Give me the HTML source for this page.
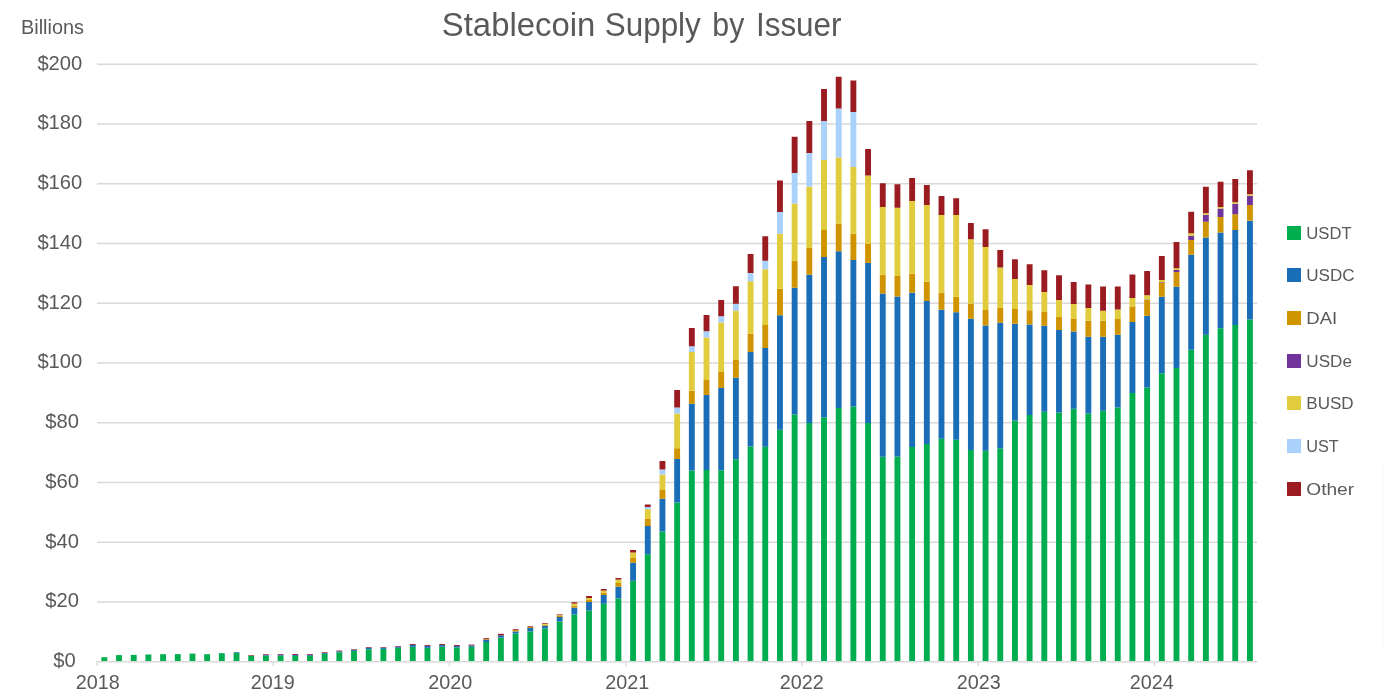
<!DOCTYPE html>
<html lang="en">
<head>
<meta charset="utf-8">
<title>Stablecoin Supply by Issuer</title>
<style>
html,body{margin:0;padding:0;background:#fff;}
body{width:1384px;height:700px;overflow:hidden;}
svg{display:block;}
text{font-family:"Liberation Sans",sans-serif;fill:#595959;}
.ax{font-size:19.8px;}
.ay{font-size:20.2px;}
.lg{font-size:16.8px;}
.ttl{font-size:34px;}
.bil{font-size:19.8px;}
</style>
</head>
<body>
<svg width="1384" height="700" viewBox="0 0 1384 700">
<rect x="0" y="0" width="1384" height="700" fill="#ffffff"/>
<rect x="1382" y="464" width="2" height="184" fill="#FAFAFA"/>
<text y="36" class="ttl"><tspan x="441.8" textLength="153.5" lengthAdjust="spacingAndGlyphs">Stablecoin</tspan> <tspan x="604.8" textLength="96" lengthAdjust="spacingAndGlyphs">Supply</tspan> <tspan x="712.3" textLength="32" lengthAdjust="spacingAndGlyphs">by</tspan> <tspan x="756" textLength="85.5" lengthAdjust="spacingAndGlyphs">Issuer</tspan></text>
<text x="21" y="33.9" class="bil" textLength="63" lengthAdjust="spacingAndGlyphs">Billions</text>
<g shape-rendering="auto">
<rect x="97" y="601.25" width="1160.2" height="1.5" fill="#D9D9D9"/>
<rect x="97" y="541.50" width="1160.2" height="1.5" fill="#D9D9D9"/>
<rect x="97" y="481.75" width="1160.2" height="1.5" fill="#D9D9D9"/>
<rect x="97" y="422.00" width="1160.2" height="1.5" fill="#D9D9D9"/>
<rect x="97" y="362.25" width="1160.2" height="1.5" fill="#D9D9D9"/>
<rect x="97" y="302.50" width="1160.2" height="1.5" fill="#D9D9D9"/>
<rect x="97" y="242.75" width="1160.2" height="1.5" fill="#D9D9D9"/>
<rect x="97" y="183.00" width="1160.2" height="1.5" fill="#D9D9D9"/>
<rect x="97" y="123.25" width="1160.2" height="1.5" fill="#D9D9D9"/>
<rect x="97" y="63.50" width="1160.2" height="1.5" fill="#D9D9D9"/>
</g>
<g>
<rect x="101.40" y="657.20" width="5.88" height="3.80" fill="#00AE4F"/>
<rect x="116.09" y="655.10" width="5.88" height="5.90" fill="#00AE4F"/>
<rect x="130.78" y="654.90" width="5.88" height="6.10" fill="#00AE4F"/>
<rect x="145.46" y="654.50" width="5.88" height="6.50" fill="#00AE4F"/>
<rect x="160.15" y="654.20" width="5.88" height="6.80" fill="#00AE4F"/>
<rect x="174.84" y="654.10" width="5.88" height="6.90" fill="#00AE4F"/>
<rect x="189.53" y="653.60" width="5.88" height="7.40" fill="#00AE4F"/>
<rect x="204.21" y="654.20" width="5.88" height="6.80" fill="#00AE4F"/>
<rect x="218.90" y="653.20" width="5.88" height="7.80" fill="#00AE4F"/>
<rect x="233.59" y="652.90" width="5.88" height="8.10" fill="#00AE4F"/>
<rect x="233.59" y="652.20" width="5.88" height="0.70" fill="#1A6DB7"/>
<rect x="248.27" y="655.70" width="5.88" height="5.30" fill="#00AE4F"/>
<rect x="248.27" y="655.10" width="5.88" height="0.60" fill="#9B1C20"/>
<rect x="262.96" y="655.70" width="5.88" height="5.30" fill="#00AE4F"/>
<rect x="262.96" y="654.90" width="5.88" height="0.80" fill="#1A6DB7"/>
<rect x="262.96" y="654.20" width="5.88" height="0.70" fill="#9B1C20"/>
<rect x="277.65" y="655.70" width="5.88" height="5.30" fill="#00AE4F"/>
<rect x="277.65" y="654.90" width="5.88" height="0.80" fill="#1A6DB7"/>
<rect x="277.65" y="654.10" width="5.88" height="0.80" fill="#9B1C20"/>
<rect x="292.33" y="655.90" width="5.88" height="5.10" fill="#00AE4F"/>
<rect x="292.33" y="655.00" width="5.88" height="0.90" fill="#1A6DB7"/>
<rect x="292.33" y="654.10" width="5.88" height="0.90" fill="#9B1C20"/>
<rect x="307.02" y="655.80" width="5.88" height="5.20" fill="#00AE4F"/>
<rect x="307.02" y="654.90" width="5.88" height="0.90" fill="#1A6DB7"/>
<rect x="307.02" y="654.10" width="5.88" height="0.80" fill="#9B1C20"/>
<rect x="321.71" y="653.80" width="5.88" height="7.20" fill="#00AE4F"/>
<rect x="321.71" y="652.90" width="5.88" height="0.90" fill="#1A6DB7"/>
<rect x="321.71" y="652.20" width="5.88" height="0.70" fill="#9B1C20"/>
<rect x="336.40" y="652.30" width="5.88" height="8.70" fill="#00AE4F"/>
<rect x="336.40" y="651.30" width="5.88" height="1.00" fill="#1A6DB7"/>
<rect x="336.40" y="650.60" width="5.88" height="0.70" fill="#9B1C20"/>
<rect x="351.08" y="650.90" width="5.88" height="10.10" fill="#00AE4F"/>
<rect x="351.08" y="649.80" width="5.88" height="1.10" fill="#1A6DB7"/>
<rect x="351.08" y="649.20" width="5.88" height="0.60" fill="#9B1C20"/>
<rect x="365.77" y="649.20" width="5.88" height="11.80" fill="#00AE4F"/>
<rect x="365.77" y="647.80" width="5.88" height="1.40" fill="#1A6DB7"/>
<rect x="365.77" y="647.10" width="5.88" height="0.70" fill="#9B1C20"/>
<rect x="380.46" y="648.90" width="5.88" height="12.10" fill="#00AE4F"/>
<rect x="380.46" y="647.70" width="5.88" height="1.20" fill="#1A6DB7"/>
<rect x="380.46" y="647.10" width="5.88" height="0.60" fill="#9B1C20"/>
<rect x="395.14" y="647.80" width="5.88" height="13.20" fill="#00AE4F"/>
<rect x="395.14" y="646.60" width="5.88" height="1.20" fill="#1A6DB7"/>
<rect x="395.14" y="646.00" width="5.88" height="0.60" fill="#9B1C20"/>
<rect x="409.83" y="646.80" width="5.88" height="14.20" fill="#00AE4F"/>
<rect x="409.83" y="645.00" width="5.88" height="1.80" fill="#1A6DB7"/>
<rect x="409.83" y="644.10" width="5.88" height="0.90" fill="#9B1C20"/>
<rect x="424.52" y="647.80" width="5.88" height="13.20" fill="#00AE4F"/>
<rect x="424.52" y="646.00" width="5.88" height="1.80" fill="#1A6DB7"/>
<rect x="424.52" y="645.10" width="5.88" height="0.90" fill="#9B1C20"/>
<rect x="439.20" y="646.70" width="5.88" height="14.30" fill="#00AE4F"/>
<rect x="439.20" y="645.00" width="5.88" height="1.70" fill="#1A6DB7"/>
<rect x="439.20" y="644.10" width="5.88" height="0.90" fill="#9B1C20"/>
<rect x="453.89" y="647.40" width="5.88" height="13.60" fill="#00AE4F"/>
<rect x="453.89" y="645.90" width="5.88" height="1.50" fill="#1A6DB7"/>
<rect x="453.89" y="645.00" width="5.88" height="0.90" fill="#9B1C20"/>
<rect x="468.58" y="646.80" width="5.88" height="14.20" fill="#00AE4F"/>
<rect x="468.58" y="645.40" width="5.88" height="1.40" fill="#1A6DB7"/>
<rect x="468.58" y="644.60" width="5.88" height="0.80" fill="#9B1C20"/>
<rect x="483.27" y="642.00" width="5.88" height="19.00" fill="#00AE4F"/>
<rect x="483.27" y="639.80" width="5.88" height="2.20" fill="#1A6DB7"/>
<rect x="483.27" y="639.20" width="5.88" height="0.60" fill="#D09400"/>
<rect x="483.27" y="638.20" width="5.88" height="1.00" fill="#9B1C20"/>
<rect x="497.95" y="637.60" width="5.88" height="23.40" fill="#00AE4F"/>
<rect x="497.95" y="635.40" width="5.88" height="2.20" fill="#1A6DB7"/>
<rect x="497.95" y="633.80" width="5.88" height="1.60" fill="#9B1C20"/>
<rect x="512.64" y="633.40" width="5.88" height="27.60" fill="#00AE4F"/>
<rect x="512.64" y="631.40" width="5.88" height="2.00" fill="#1A6DB7"/>
<rect x="512.64" y="630.10" width="5.88" height="1.30" fill="#D09400"/>
<rect x="512.64" y="629.20" width="5.88" height="0.90" fill="#9B1C20"/>
<rect x="527.33" y="631.40" width="5.88" height="29.60" fill="#00AE4F"/>
<rect x="527.33" y="628.00" width="5.88" height="3.40" fill="#1A6DB7"/>
<rect x="527.33" y="626.90" width="5.88" height="1.10" fill="#D09400"/>
<rect x="527.33" y="626.20" width="5.88" height="0.70" fill="#9B1C20"/>
<rect x="542.01" y="628.40" width="5.88" height="32.60" fill="#00AE4F"/>
<rect x="542.01" y="625.80" width="5.88" height="2.60" fill="#1A6DB7"/>
<rect x="542.01" y="624.80" width="5.88" height="1.00" fill="#D09400"/>
<rect x="542.01" y="623.70" width="5.88" height="1.10" fill="#E0CC3C"/>
<rect x="542.01" y="623.00" width="5.88" height="0.70" fill="#9B1C20"/>
<rect x="556.70" y="621.40" width="5.88" height="39.60" fill="#00AE4F"/>
<rect x="556.70" y="617.00" width="5.88" height="4.40" fill="#1A6DB7"/>
<rect x="556.70" y="615.80" width="5.88" height="1.20" fill="#D09400"/>
<rect x="556.70" y="615.20" width="5.88" height="0.60" fill="#E0CC3C"/>
<rect x="556.70" y="614.40" width="5.88" height="0.80" fill="#9B1C20"/>
<rect x="571.39" y="614.40" width="5.88" height="46.60" fill="#00AE4F"/>
<rect x="571.39" y="607.60" width="5.88" height="6.80" fill="#1A6DB7"/>
<rect x="571.39" y="605.60" width="5.88" height="2.00" fill="#D09400"/>
<rect x="571.39" y="603.60" width="5.88" height="2.00" fill="#E0CC3C"/>
<rect x="571.39" y="602.20" width="5.88" height="1.40" fill="#9B1C20"/>
<rect x="586.07" y="610.60" width="5.88" height="50.40" fill="#00AE4F"/>
<rect x="586.07" y="602.00" width="5.88" height="8.60" fill="#1A6DB7"/>
<rect x="586.07" y="600.00" width="5.88" height="2.00" fill="#D09400"/>
<rect x="586.07" y="598.00" width="5.88" height="2.00" fill="#E0CC3C"/>
<rect x="586.07" y="596.00" width="5.88" height="2.00" fill="#9B1C20"/>
<rect x="600.76" y="603.80" width="5.88" height="57.20" fill="#00AE4F"/>
<rect x="600.76" y="595.00" width="5.88" height="8.80" fill="#1A6DB7"/>
<rect x="600.76" y="592.80" width="5.88" height="2.20" fill="#D09400"/>
<rect x="600.76" y="590.60" width="5.88" height="2.20" fill="#E0CC3C"/>
<rect x="600.76" y="589.00" width="5.88" height="1.60" fill="#9B1C20"/>
<rect x="615.45" y="598.40" width="5.88" height="62.60" fill="#00AE4F"/>
<rect x="615.45" y="586.60" width="5.88" height="11.80" fill="#1A6DB7"/>
<rect x="615.45" y="583.00" width="5.88" height="3.60" fill="#D09400"/>
<rect x="615.45" y="579.60" width="5.88" height="3.40" fill="#E0CC3C"/>
<rect x="615.45" y="578.00" width="5.88" height="1.60" fill="#9B1C20"/>
<rect x="630.14" y="580.75" width="5.88" height="80.25" fill="#00AE4F"/>
<rect x="630.14" y="562.75" width="5.88" height="18.00" fill="#1A6DB7"/>
<rect x="630.14" y="558.00" width="5.88" height="4.75" fill="#D09400"/>
<rect x="630.14" y="552.50" width="5.88" height="5.50" fill="#E0CC3C"/>
<rect x="630.14" y="550.00" width="5.88" height="2.50" fill="#9B1C20"/>
<rect x="644.82" y="554.25" width="5.88" height="106.75" fill="#00AE4F"/>
<rect x="644.82" y="526.00" width="5.88" height="28.25" fill="#1A6DB7"/>
<rect x="644.82" y="519.00" width="5.88" height="7.00" fill="#D09400"/>
<rect x="644.82" y="509.25" width="5.88" height="9.75" fill="#E0CC3C"/>
<rect x="644.82" y="507.00" width="5.88" height="2.25" fill="#A9D1FB"/>
<rect x="644.82" y="504.50" width="5.88" height="2.50" fill="#9B1C20"/>
<rect x="659.51" y="531.50" width="5.88" height="129.50" fill="#00AE4F"/>
<rect x="659.51" y="498.75" width="5.88" height="32.75" fill="#1A6DB7"/>
<rect x="659.51" y="490.00" width="5.88" height="8.75" fill="#D09400"/>
<rect x="659.51" y="474.50" width="5.88" height="15.50" fill="#E0CC3C"/>
<rect x="659.51" y="469.50" width="5.88" height="5.00" fill="#A9D1FB"/>
<rect x="659.51" y="461.00" width="5.88" height="8.50" fill="#9B1C20"/>
<rect x="674.20" y="502.50" width="5.88" height="158.50" fill="#00AE4F"/>
<rect x="674.20" y="459.00" width="5.88" height="43.50" fill="#1A6DB7"/>
<rect x="674.20" y="448.25" width="5.88" height="10.75" fill="#D09400"/>
<rect x="674.20" y="413.50" width="5.88" height="34.75" fill="#E0CC3C"/>
<rect x="674.20" y="407.50" width="5.88" height="6.00" fill="#A9D1FB"/>
<rect x="674.20" y="390.00" width="5.88" height="17.50" fill="#9B1C20"/>
<rect x="688.88" y="470.50" width="5.88" height="190.50" fill="#00AE4F"/>
<rect x="688.88" y="403.75" width="5.88" height="66.75" fill="#1A6DB7"/>
<rect x="688.88" y="390.75" width="5.88" height="13.00" fill="#D09400"/>
<rect x="688.88" y="352.00" width="5.88" height="38.75" fill="#E0CC3C"/>
<rect x="688.88" y="346.25" width="5.88" height="5.75" fill="#A9D1FB"/>
<rect x="688.88" y="328.00" width="5.88" height="18.25" fill="#9B1C20"/>
<rect x="703.57" y="470.00" width="5.88" height="191.00" fill="#00AE4F"/>
<rect x="703.57" y="395.00" width="5.88" height="75.00" fill="#1A6DB7"/>
<rect x="703.57" y="380.00" width="5.88" height="15.00" fill="#D09400"/>
<rect x="703.57" y="337.50" width="5.88" height="42.50" fill="#E0CC3C"/>
<rect x="703.57" y="331.25" width="5.88" height="6.25" fill="#A9D1FB"/>
<rect x="703.57" y="315.00" width="5.88" height="16.25" fill="#9B1C20"/>
<rect x="718.26" y="470.25" width="5.88" height="190.75" fill="#00AE4F"/>
<rect x="718.26" y="388.00" width="5.88" height="82.25" fill="#1A6DB7"/>
<rect x="718.26" y="372.00" width="5.88" height="16.00" fill="#D09400"/>
<rect x="718.26" y="322.50" width="5.88" height="49.50" fill="#E0CC3C"/>
<rect x="718.26" y="316.25" width="5.88" height="6.25" fill="#A9D1FB"/>
<rect x="718.26" y="300.00" width="5.88" height="16.25" fill="#9B1C20"/>
<rect x="732.94" y="459.25" width="5.88" height="201.75" fill="#00AE4F"/>
<rect x="732.94" y="377.75" width="5.88" height="81.50" fill="#1A6DB7"/>
<rect x="732.94" y="360.00" width="5.88" height="17.75" fill="#D09400"/>
<rect x="732.94" y="310.75" width="5.88" height="49.25" fill="#E0CC3C"/>
<rect x="732.94" y="303.75" width="5.88" height="7.00" fill="#A9D1FB"/>
<rect x="732.94" y="286.25" width="5.88" height="17.50" fill="#9B1C20"/>
<rect x="747.63" y="446.50" width="5.88" height="214.50" fill="#00AE4F"/>
<rect x="747.63" y="352.00" width="5.88" height="94.50" fill="#1A6DB7"/>
<rect x="747.63" y="333.75" width="5.88" height="18.25" fill="#D09400"/>
<rect x="747.63" y="281.25" width="5.88" height="52.50" fill="#E0CC3C"/>
<rect x="747.63" y="273.00" width="5.88" height="8.25" fill="#A9D1FB"/>
<rect x="747.63" y="254.00" width="5.88" height="19.00" fill="#9B1C20"/>
<rect x="762.32" y="446.75" width="5.88" height="214.25" fill="#00AE4F"/>
<rect x="762.32" y="348.00" width="5.88" height="98.75" fill="#1A6DB7"/>
<rect x="762.32" y="325.00" width="5.88" height="23.00" fill="#D09400"/>
<rect x="762.32" y="269.25" width="5.88" height="55.75" fill="#E0CC3C"/>
<rect x="762.32" y="260.75" width="5.88" height="8.50" fill="#A9D1FB"/>
<rect x="762.32" y="236.25" width="5.88" height="24.50" fill="#9B1C20"/>
<rect x="777.01" y="429.75" width="5.88" height="231.25" fill="#00AE4F"/>
<rect x="777.01" y="315.25" width="5.88" height="114.50" fill="#1A6DB7"/>
<rect x="777.01" y="288.75" width="5.88" height="26.50" fill="#D09400"/>
<rect x="777.01" y="233.75" width="5.88" height="55.00" fill="#E0CC3C"/>
<rect x="777.01" y="212.00" width="5.88" height="21.75" fill="#A9D1FB"/>
<rect x="777.01" y="180.50" width="5.88" height="31.50" fill="#9B1C20"/>
<rect x="791.69" y="414.50" width="5.88" height="246.50" fill="#00AE4F"/>
<rect x="791.69" y="287.75" width="5.88" height="126.75" fill="#1A6DB7"/>
<rect x="791.69" y="260.75" width="5.88" height="27.00" fill="#D09400"/>
<rect x="791.69" y="203.50" width="5.88" height="57.25" fill="#E0CC3C"/>
<rect x="791.69" y="173.00" width="5.88" height="30.50" fill="#A9D1FB"/>
<rect x="791.69" y="136.75" width="5.88" height="36.25" fill="#9B1C20"/>
<rect x="806.38" y="423.00" width="5.88" height="238.00" fill="#00AE4F"/>
<rect x="806.38" y="274.75" width="5.88" height="148.25" fill="#1A6DB7"/>
<rect x="806.38" y="248.00" width="5.88" height="26.75" fill="#D09400"/>
<rect x="806.38" y="186.75" width="5.88" height="61.25" fill="#E0CC3C"/>
<rect x="806.38" y="153.00" width="5.88" height="33.75" fill="#A9D1FB"/>
<rect x="806.38" y="121.00" width="5.88" height="32.00" fill="#9B1C20"/>
<rect x="821.07" y="417.50" width="5.88" height="243.50" fill="#00AE4F"/>
<rect x="821.07" y="257.00" width="5.88" height="160.50" fill="#1A6DB7"/>
<rect x="821.07" y="230.00" width="5.88" height="27.00" fill="#D09400"/>
<rect x="821.07" y="160.00" width="5.88" height="70.00" fill="#E0CC3C"/>
<rect x="821.07" y="121.00" width="5.88" height="39.00" fill="#A9D1FB"/>
<rect x="821.07" y="89.00" width="5.88" height="32.00" fill="#9B1C20"/>
<rect x="835.75" y="408.00" width="5.88" height="253.00" fill="#00AE4F"/>
<rect x="835.75" y="251.25" width="5.88" height="156.75" fill="#1A6DB7"/>
<rect x="835.75" y="223.75" width="5.88" height="27.50" fill="#D09400"/>
<rect x="835.75" y="157.50" width="5.88" height="66.25" fill="#E0CC3C"/>
<rect x="835.75" y="108.50" width="5.88" height="49.00" fill="#A9D1FB"/>
<rect x="835.75" y="76.75" width="5.88" height="31.75" fill="#9B1C20"/>
<rect x="850.44" y="406.50" width="5.88" height="254.50" fill="#00AE4F"/>
<rect x="850.44" y="260.00" width="5.88" height="146.50" fill="#1A6DB7"/>
<rect x="850.44" y="233.75" width="5.88" height="26.25" fill="#D09400"/>
<rect x="850.44" y="167.00" width="5.88" height="66.75" fill="#E0CC3C"/>
<rect x="850.44" y="112.00" width="5.88" height="55.00" fill="#A9D1FB"/>
<rect x="850.44" y="80.50" width="5.88" height="31.50" fill="#9B1C20"/>
<rect x="865.13" y="423.00" width="5.88" height="238.00" fill="#00AE4F"/>
<rect x="865.13" y="263.00" width="5.88" height="160.00" fill="#1A6DB7"/>
<rect x="865.13" y="244.00" width="5.88" height="19.00" fill="#D09400"/>
<rect x="865.13" y="175.50" width="5.88" height="68.50" fill="#E0CC3C"/>
<rect x="865.13" y="149.00" width="5.88" height="26.50" fill="#9B1C20"/>
<rect x="879.81" y="456.75" width="5.88" height="204.25" fill="#00AE4F"/>
<rect x="879.81" y="293.50" width="5.88" height="163.25" fill="#1A6DB7"/>
<rect x="879.81" y="274.75" width="5.88" height="18.75" fill="#D09400"/>
<rect x="879.81" y="207.00" width="5.88" height="67.75" fill="#E0CC3C"/>
<rect x="879.81" y="183.25" width="5.88" height="23.75" fill="#9B1C20"/>
<rect x="894.50" y="456.50" width="5.88" height="204.50" fill="#00AE4F"/>
<rect x="894.50" y="296.50" width="5.88" height="160.00" fill="#1A6DB7"/>
<rect x="894.50" y="276.00" width="5.88" height="20.50" fill="#D09400"/>
<rect x="894.50" y="207.75" width="5.88" height="68.25" fill="#E0CC3C"/>
<rect x="894.50" y="184.25" width="5.88" height="23.50" fill="#9B1C20"/>
<rect x="909.19" y="447.00" width="5.88" height="214.00" fill="#00AE4F"/>
<rect x="909.19" y="292.75" width="5.88" height="154.25" fill="#1A6DB7"/>
<rect x="909.19" y="273.75" width="5.88" height="19.00" fill="#D09400"/>
<rect x="909.19" y="201.00" width="5.88" height="72.75" fill="#E0CC3C"/>
<rect x="909.19" y="178.00" width="5.88" height="23.00" fill="#9B1C20"/>
<rect x="923.88" y="444.00" width="5.88" height="217.00" fill="#00AE4F"/>
<rect x="923.88" y="301.00" width="5.88" height="143.00" fill="#1A6DB7"/>
<rect x="923.88" y="281.75" width="5.88" height="19.25" fill="#D09400"/>
<rect x="923.88" y="205.00" width="5.88" height="76.75" fill="#E0CC3C"/>
<rect x="923.88" y="185.00" width="5.88" height="20.00" fill="#9B1C20"/>
<rect x="938.56" y="438.75" width="5.88" height="222.25" fill="#00AE4F"/>
<rect x="938.56" y="309.75" width="5.88" height="129.00" fill="#1A6DB7"/>
<rect x="938.56" y="292.75" width="5.88" height="17.00" fill="#D09400"/>
<rect x="938.56" y="215.00" width="5.88" height="77.75" fill="#E0CC3C"/>
<rect x="938.56" y="196.00" width="5.88" height="19.00" fill="#9B1C20"/>
<rect x="953.25" y="439.75" width="5.88" height="221.25" fill="#00AE4F"/>
<rect x="953.25" y="312.25" width="5.88" height="127.50" fill="#1A6DB7"/>
<rect x="953.25" y="296.75" width="5.88" height="15.50" fill="#D09400"/>
<rect x="953.25" y="215.00" width="5.88" height="81.75" fill="#E0CC3C"/>
<rect x="953.25" y="198.25" width="5.88" height="16.75" fill="#9B1C20"/>
<rect x="967.94" y="450.00" width="5.88" height="211.00" fill="#00AE4F"/>
<rect x="967.94" y="318.75" width="5.88" height="131.25" fill="#1A6DB7"/>
<rect x="967.94" y="303.75" width="5.88" height="15.00" fill="#D09400"/>
<rect x="967.94" y="239.25" width="5.88" height="64.50" fill="#E0CC3C"/>
<rect x="967.94" y="223.00" width="5.88" height="16.25" fill="#9B1C20"/>
<rect x="982.62" y="450.75" width="5.88" height="210.25" fill="#00AE4F"/>
<rect x="982.62" y="325.50" width="5.88" height="125.25" fill="#1A6DB7"/>
<rect x="982.62" y="310.00" width="5.88" height="15.50" fill="#D09400"/>
<rect x="982.62" y="247.00" width="5.88" height="63.00" fill="#E0CC3C"/>
<rect x="982.62" y="229.25" width="5.88" height="17.75" fill="#9B1C20"/>
<rect x="997.31" y="448.25" width="5.88" height="212.75" fill="#00AE4F"/>
<rect x="997.31" y="322.75" width="5.88" height="125.50" fill="#1A6DB7"/>
<rect x="997.31" y="308.00" width="5.88" height="14.75" fill="#D09400"/>
<rect x="997.31" y="267.50" width="5.88" height="40.50" fill="#E0CC3C"/>
<rect x="997.31" y="250.00" width="5.88" height="17.50" fill="#9B1C20"/>
<rect x="1012.00" y="420.50" width="5.88" height="240.50" fill="#00AE4F"/>
<rect x="1012.00" y="323.75" width="5.88" height="96.75" fill="#1A6DB7"/>
<rect x="1012.00" y="309.00" width="5.88" height="14.75" fill="#D09400"/>
<rect x="1012.00" y="279.00" width="5.88" height="30.00" fill="#E0CC3C"/>
<rect x="1012.00" y="259.25" width="5.88" height="19.75" fill="#9B1C20"/>
<rect x="1026.68" y="415.00" width="5.88" height="246.00" fill="#00AE4F"/>
<rect x="1026.68" y="324.50" width="5.88" height="90.50" fill="#1A6DB7"/>
<rect x="1026.68" y="310.25" width="5.88" height="14.25" fill="#D09400"/>
<rect x="1026.68" y="285.00" width="5.88" height="25.25" fill="#E0CC3C"/>
<rect x="1026.68" y="264.25" width="5.88" height="20.75" fill="#9B1C20"/>
<rect x="1041.37" y="411.75" width="5.88" height="249.25" fill="#00AE4F"/>
<rect x="1041.37" y="325.75" width="5.88" height="86.00" fill="#1A6DB7"/>
<rect x="1041.37" y="312.00" width="5.88" height="13.75" fill="#D09400"/>
<rect x="1041.37" y="292.00" width="5.88" height="20.00" fill="#E0CC3C"/>
<rect x="1041.37" y="270.25" width="5.88" height="21.75" fill="#9B1C20"/>
<rect x="1056.06" y="412.50" width="5.88" height="248.50" fill="#00AE4F"/>
<rect x="1056.06" y="330.00" width="5.88" height="82.50" fill="#1A6DB7"/>
<rect x="1056.06" y="317.00" width="5.88" height="13.00" fill="#D09400"/>
<rect x="1056.06" y="300.00" width="5.88" height="17.00" fill="#E0CC3C"/>
<rect x="1056.06" y="275.25" width="5.88" height="24.75" fill="#9B1C20"/>
<rect x="1070.75" y="408.75" width="5.88" height="252.25" fill="#00AE4F"/>
<rect x="1070.75" y="331.50" width="5.88" height="77.25" fill="#1A6DB7"/>
<rect x="1070.75" y="319.00" width="5.88" height="12.50" fill="#D09400"/>
<rect x="1070.75" y="304.00" width="5.88" height="15.00" fill="#E0CC3C"/>
<rect x="1070.75" y="282.00" width="5.88" height="22.00" fill="#9B1C20"/>
<rect x="1085.43" y="413.50" width="5.88" height="247.50" fill="#00AE4F"/>
<rect x="1085.43" y="336.75" width="5.88" height="76.75" fill="#1A6DB7"/>
<rect x="1085.43" y="320.75" width="5.88" height="16.00" fill="#D09400"/>
<rect x="1085.43" y="308.00" width="5.88" height="12.75" fill="#E0CC3C"/>
<rect x="1085.43" y="284.50" width="5.88" height="23.50" fill="#9B1C20"/>
<rect x="1100.12" y="410.75" width="5.88" height="250.25" fill="#00AE4F"/>
<rect x="1100.12" y="336.75" width="5.88" height="74.00" fill="#1A6DB7"/>
<rect x="1100.12" y="320.75" width="5.88" height="16.00" fill="#D09400"/>
<rect x="1100.12" y="310.75" width="5.88" height="10.00" fill="#E0CC3C"/>
<rect x="1100.12" y="286.50" width="5.88" height="24.25" fill="#9B1C20"/>
<rect x="1114.81" y="407.50" width="5.88" height="253.50" fill="#00AE4F"/>
<rect x="1114.81" y="334.75" width="5.88" height="72.75" fill="#1A6DB7"/>
<rect x="1114.81" y="319.00" width="5.88" height="15.75" fill="#D09400"/>
<rect x="1114.81" y="309.50" width="5.88" height="9.50" fill="#E0CC3C"/>
<rect x="1114.81" y="286.50" width="5.88" height="23.00" fill="#9B1C20"/>
<rect x="1129.49" y="393.00" width="5.88" height="268.00" fill="#00AE4F"/>
<rect x="1129.49" y="322.00" width="5.88" height="71.00" fill="#1A6DB7"/>
<rect x="1129.49" y="306.50" width="5.88" height="15.50" fill="#D09400"/>
<rect x="1129.49" y="298.00" width="5.88" height="8.50" fill="#E0CC3C"/>
<rect x="1129.49" y="274.50" width="5.88" height="23.50" fill="#9B1C20"/>
<rect x="1144.18" y="387.50" width="5.88" height="273.50" fill="#00AE4F"/>
<rect x="1144.18" y="315.75" width="5.88" height="71.75" fill="#1A6DB7"/>
<rect x="1144.18" y="300.00" width="5.88" height="15.75" fill="#D09400"/>
<rect x="1144.18" y="299.50" width="5.88" height="0.50" fill="#70349C"/>
<rect x="1144.18" y="295.25" width="5.88" height="4.25" fill="#E0CC3C"/>
<rect x="1144.18" y="271.00" width="5.88" height="24.25" fill="#9B1C20"/>
<rect x="1158.87" y="373.25" width="5.88" height="287.75" fill="#00AE4F"/>
<rect x="1158.87" y="296.75" width="5.88" height="76.50" fill="#1A6DB7"/>
<rect x="1158.87" y="282.50" width="5.88" height="14.25" fill="#D09400"/>
<rect x="1158.87" y="282.00" width="5.88" height="0.50" fill="#70349C"/>
<rect x="1158.87" y="280.00" width="5.88" height="2.00" fill="#E0CC3C"/>
<rect x="1158.87" y="256.00" width="5.88" height="24.00" fill="#9B1C20"/>
<rect x="1173.55" y="368.00" width="5.88" height="293.00" fill="#00AE4F"/>
<rect x="1173.55" y="286.75" width="5.88" height="81.25" fill="#1A6DB7"/>
<rect x="1173.55" y="272.00" width="5.88" height="14.75" fill="#D09400"/>
<rect x="1173.55" y="270.00" width="5.88" height="2.00" fill="#70349C"/>
<rect x="1173.55" y="268.25" width="5.88" height="1.75" fill="#E0CC3C"/>
<rect x="1173.55" y="242.00" width="5.88" height="26.25" fill="#9B1C20"/>
<rect x="1188.24" y="349.75" width="5.88" height="311.25" fill="#00AE4F"/>
<rect x="1188.24" y="254.75" width="5.88" height="95.00" fill="#1A6DB7"/>
<rect x="1188.24" y="240.00" width="5.88" height="14.75" fill="#D09400"/>
<rect x="1188.24" y="235.75" width="5.88" height="4.25" fill="#70349C"/>
<rect x="1188.24" y="233.25" width="5.88" height="2.50" fill="#E0CC3C"/>
<rect x="1188.24" y="211.75" width="5.88" height="21.50" fill="#9B1C20"/>
<rect x="1202.93" y="334.75" width="5.88" height="326.25" fill="#00AE4F"/>
<rect x="1202.93" y="237.50" width="5.88" height="97.25" fill="#1A6DB7"/>
<rect x="1202.93" y="221.75" width="5.88" height="15.75" fill="#D09400"/>
<rect x="1202.93" y="214.75" width="5.88" height="7.00" fill="#70349C"/>
<rect x="1202.93" y="213.25" width="5.88" height="1.50" fill="#E0CC3C"/>
<rect x="1202.93" y="186.75" width="5.88" height="26.50" fill="#9B1C20"/>
<rect x="1217.62" y="328.25" width="5.88" height="332.75" fill="#00AE4F"/>
<rect x="1217.62" y="232.50" width="5.88" height="95.75" fill="#1A6DB7"/>
<rect x="1217.62" y="217.00" width="5.88" height="15.50" fill="#D09400"/>
<rect x="1217.62" y="208.50" width="5.88" height="8.50" fill="#70349C"/>
<rect x="1217.62" y="207.00" width="5.88" height="1.50" fill="#E0CC3C"/>
<rect x="1217.62" y="181.75" width="5.88" height="25.25" fill="#9B1C20"/>
<rect x="1232.30" y="325.00" width="5.88" height="336.00" fill="#00AE4F"/>
<rect x="1232.30" y="230.00" width="5.88" height="95.00" fill="#1A6DB7"/>
<rect x="1232.30" y="214.25" width="5.88" height="15.75" fill="#D09400"/>
<rect x="1232.30" y="203.75" width="5.88" height="10.50" fill="#70349C"/>
<rect x="1232.30" y="202.25" width="5.88" height="1.50" fill="#E0CC3C"/>
<rect x="1232.30" y="179.00" width="5.88" height="23.25" fill="#9B1C20"/>
<rect x="1246.99" y="319.50" width="5.88" height="341.50" fill="#00AE4F"/>
<rect x="1246.99" y="220.75" width="5.88" height="98.75" fill="#1A6DB7"/>
<rect x="1246.99" y="205.00" width="5.88" height="15.75" fill="#D09400"/>
<rect x="1246.99" y="195.75" width="5.88" height="9.25" fill="#70349C"/>
<rect x="1246.99" y="194.25" width="5.88" height="1.50" fill="#E0CC3C"/>
<rect x="1246.99" y="170.25" width="5.88" height="24.00" fill="#9B1C20"/>
</g>
<rect x="96.2" y="661" width="1161" height="1.5" fill="#D9D9D9"/>
<rect x="96.25" y="661" width="1.5" height="5" fill="#DCDCDC"/>
<rect x="272.49" y="661" width="1.5" height="5" fill="#DCDCDC"/>
<rect x="448.74" y="661" width="1.5" height="5" fill="#DCDCDC"/>
<rect x="624.98" y="661" width="1.5" height="5" fill="#DCDCDC"/>
<rect x="801.23" y="661" width="1.5" height="5" fill="#DCDCDC"/>
<rect x="977.47" y="661" width="1.5" height="5" fill="#DCDCDC"/>
<rect x="1153.71" y="661" width="1.5" height="5" fill="#DCDCDC"/>
<g>
<text x="75.8" y="667.15" text-anchor="end" class="ay">$0</text>
<text x="79.0" y="607.40" text-anchor="end" class="ay">$20</text>
<text x="79.0" y="547.65" text-anchor="end" class="ay">$40</text>
<text x="79.0" y="487.90" text-anchor="end" class="ay">$60</text>
<text x="79.0" y="428.15" text-anchor="end" class="ay">$80</text>
<text x="82.3" y="368.40" text-anchor="end" class="ay">$100</text>
<text x="82.3" y="308.65" text-anchor="end" class="ay">$120</text>
<text x="82.3" y="248.90" text-anchor="end" class="ay">$140</text>
<text x="82.3" y="189.15" text-anchor="end" class="ay">$160</text>
<text x="82.3" y="129.40" text-anchor="end" class="ay">$180</text>
<text x="82.3" y="69.65" text-anchor="end" class="ay">$200</text>
</g>
<g>
<text x="97.8" y="688.5" text-anchor="middle" class="ax">2018</text>
<text x="272.8" y="688.5" text-anchor="middle" class="ax">2019</text>
<text x="450.3" y="688.5" text-anchor="middle" class="ax">2020</text>
<text x="627.3" y="688.5" text-anchor="middle" class="ax">2021</text>
<text x="801.7" y="688.5" text-anchor="middle" class="ax">2022</text>
<text x="978.7" y="688.5" text-anchor="middle" class="ax">2023</text>
<text x="1151.8" y="688.5" text-anchor="middle" class="ax">2024</text>
</g>
<g>
<rect x="1287" y="226.00" width="14" height="14" fill="#00AE4F"/>
<text x="1306.3" y="239.00" class="lg" textLength="45.3" lengthAdjust="spacingAndGlyphs">USDT</text>
<rect x="1287" y="268.00" width="14" height="14" fill="#1A6DB7"/>
<text x="1306.3" y="281.00" class="lg" textLength="48.3" lengthAdjust="spacingAndGlyphs">USDC</text>
<rect x="1287" y="311.00" width="14" height="14" fill="#D09400"/>
<text x="1306.3" y="324.00" class="lg" textLength="31" lengthAdjust="spacingAndGlyphs">DAI</text>
<rect x="1287" y="354.00" width="14" height="14" fill="#70349C"/>
<text x="1306.3" y="367.00" class="lg" textLength="45.6" lengthAdjust="spacingAndGlyphs">USDe</text>
<rect x="1287" y="396.00" width="14" height="14" fill="#E0CC3C"/>
<text x="1306.3" y="409.00" class="lg" textLength="47.3" lengthAdjust="spacingAndGlyphs">BUSD</text>
<rect x="1287" y="439.00" width="14" height="14" fill="#A9D1FB"/>
<text x="1306.3" y="452.00" class="lg" textLength="32.5" lengthAdjust="spacingAndGlyphs">UST</text>
<rect x="1287" y="482.00" width="14" height="14" fill="#9B1C20"/>
<text x="1306.3" y="495.00" class="lg" textLength="47.8" lengthAdjust="spacingAndGlyphs">Other</text>
</g>
</svg>
</body>
</html>
